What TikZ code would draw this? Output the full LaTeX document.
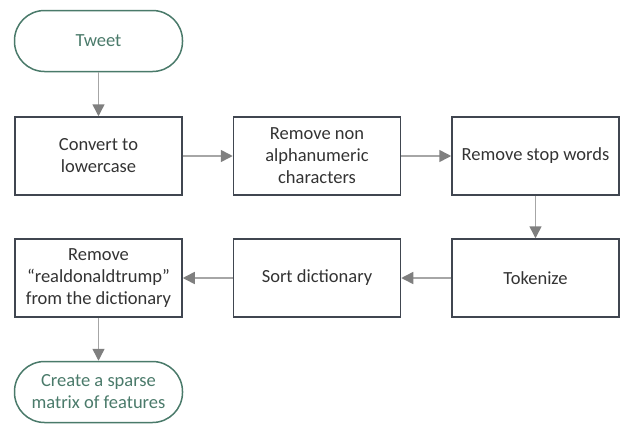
\documentclass[tikz,border=0pt]{standalone}
\usepackage{fontspec}
\setmainfont{Carlito}
\usetikzlibrary{arrows.meta}
\definecolor{boxline}{HTML}{404650}
\definecolor{termline}{HTML}{4A7A6A}
\definecolor{arrowline}{HTML}{A6A6A6}
\definecolor{arrowhead}{HTML}{7F7F7F}
\begin{document}
\begin{tikzpicture}[x=1pt,y=-1pt]
% Styles
\tikzstyle{process}=[draw=boxline,line width=1.5pt,minimum width=167pt,minimum height=78pt,align=center,text=black!80,font=\fontsize{18.5}{22}\selectfont]
\tikzstyle{terminal}=[draw=termline,line width=1.5pt,rounded corners=30pt,minimum width=168pt,minimum height=61pt,align=center,text=termline,font=\fontsize{18.5}{22}\selectfont]
\tikzstyle{flow}=[draw=arrowline,line width=1.5pt,-{Triangle[length=12pt,width=12pt,color=arrowhead]}]

\useasboundingbox (0,0) rectangle (625,424);

% draw the nodes
\node[terminal] (tweet) at (98.5,41) {Tweet};
\node[process] (lower) at (98.5,156) {Convert to\\lowercase};
\node[process] (alnum) at (317,156) {Remove non\\alphanumeric\\characters};
\node[process] (stop) at (535.5,156) {Remove stop words};
\node[process] (token) at (535.5,278) {Tokenize};
\node[process] (sort) at (317,278) {Sort dictionary};
\node[process] (trump) at (98.5,278) {Remove\\“realdonaldtrump”\\from the dictionary};
\node[terminal] (sparse) at (98.5,392) {Create a sparse\\matrix of features};

%connect them
\foreach \a/\b in {tweet/lower,lower/alnum,alnum/stop,stop/token,token/sort,sort/trump,trump/sparse} {
\draw[flow] (\a) -- (\b);
}

\end{tikzpicture}
\end{document}
